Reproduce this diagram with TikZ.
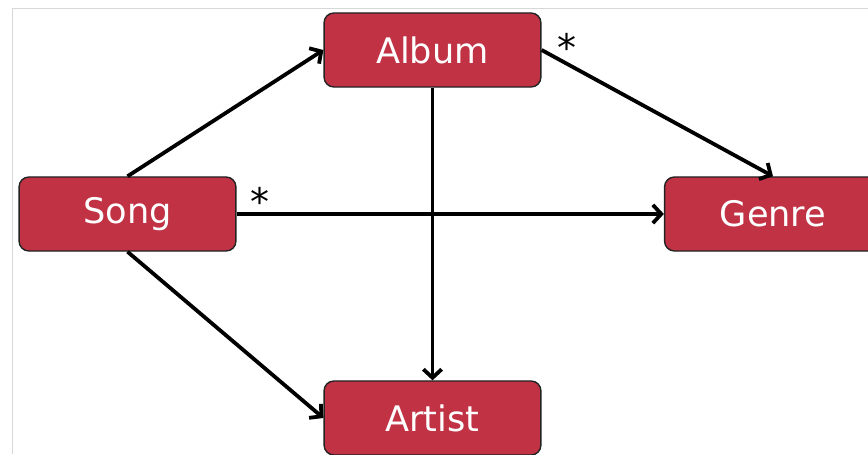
\documentclass[tikz,border=0pt]{standalone}
\usepackage{fontspec}
\newfontfamily\boxfont{DejaVu Sans}
\usetikzlibrary{arrows.meta}

\definecolor{boxred}{RGB}{192,50,68}
\definecolor{boxedge}{RGB}{35,35,35}
\definecolor{framegray}{RGB}{215,215,215}

\tikzset{
  entity/.style={draw=boxedge, line width=1pt, fill=boxred, rounded corners=7pt,
    minimum width=5.42cm, minimum height=1.85cm, inner sep=0pt,
    text=white, font=\boxfont\fontsize{25}{30}\selectfont},
  link/.style={line width=2.7pt, -{Straight Barb[length=6pt, width=13pt, line width=2.7pt]}},
  mult/.style={font=\boxfont\fontsize{27}{30}\selectfont, inner sep=0pt}
}

\begin{document}
\begin{tikzpicture}[x=0.025cm, y=-0.025cm]

% Fix the page to the reference size
\useasboundingbox (0,0) rectangle (868,454);

% Light frame of the screenshot
\draw[framegray, line width=0.6pt] (868,8) -- (12,8) -- (12,454);

% Entities
\node[entity] (song)   at (127.5,214) {Song};
\node[entity] (album)  at (432.5,50)  {Album};
\node[entity] (genre)  at (773,214)   {Genre};
\node[entity] (artist) at (432.5,418) {Artist};

% Links between the entities
\draw[link] (song.north) -- (album.west);
\draw[link] (album.east) -- (genre.north);
\draw[link] (album.south) -- (artist.north);
\draw[link] (song.east) -- (genre.west);
\draw[link] (song.south) -- (artist.west);

% Multiplicities
\node[mult] (albumstar) at ([shift={(25,-3)}]album.east) {*};
\node[mult] (songstar)  at ([shift={(23,-13)}]song.east) {*};

\end{tikzpicture}
\end{document}
